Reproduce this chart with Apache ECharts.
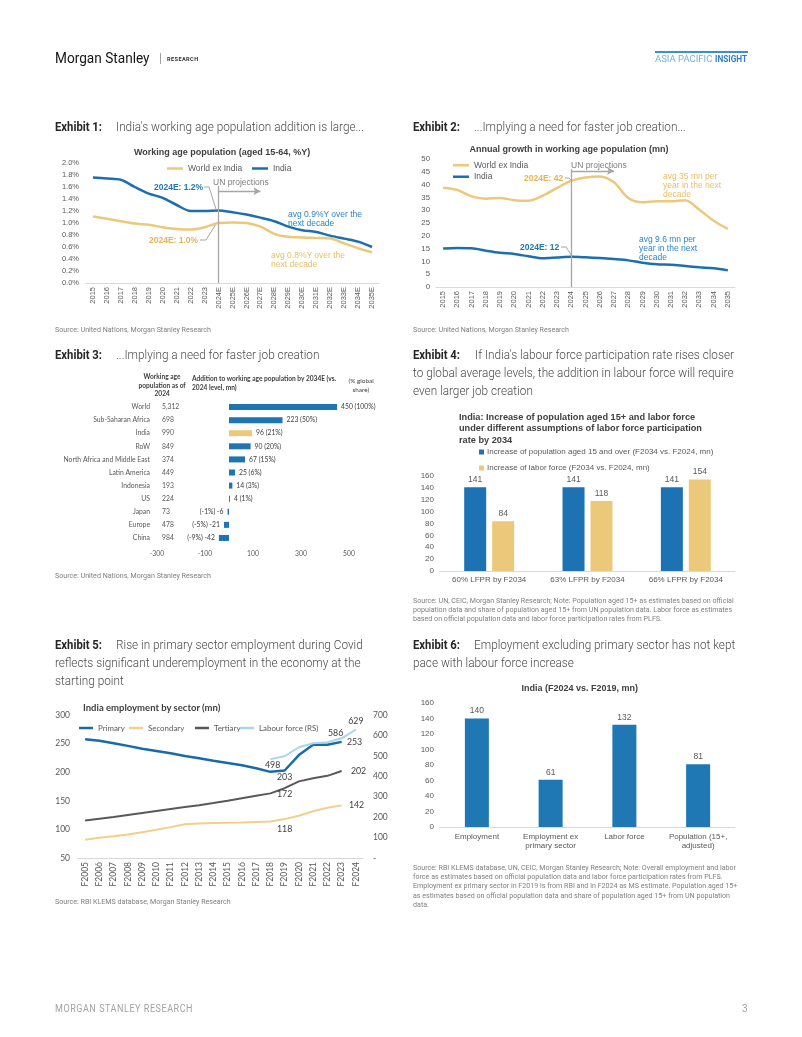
<!DOCTYPE html>
<html><head><meta charset="utf-8">
<script src="https://cdn.jsdelivr.net/npm/echarts@6/dist/echarts.min.js"></script>
<style>
html,body{margin:0;padding:0;background:#fff;}
#page{position:relative;width:802px;height:1037px;overflow:hidden;background:#fff;}
#chart{position:absolute;left:0;top:0;width:802px;height:1037px;}
.t{position:absolute;white-space:nowrap;transform-origin:0 50%;line-height:1.2;}
</style></head><body><div id="page"><div id="chart"></div></div>
<script>
// ---------------- DATA ----------------
const ex1Years = ['2015','2016','2017','2018','2019','2020','2021','2022','2023','2024E','2025E','2026E','2027E','2028E','2029E','2030E','2031E','2032E','2033E','2034E','2035E'];
const ex1WorldExIndia = [1.11,1.07,1.03,0.99,0.97,0.93,0.90,0.89,0.93,1.00,1.01,1.00,0.94,0.82,0.77,0.76,0.75,0.74,0.66,0.58,0.51];
const ex1India = [1.76,1.74,1.72,1.60,1.49,1.42,1.30,1.20,1.20,1.21,1.18,1.14,1.09,1.03,0.94,0.88,0.85,0.79,0.74,0.69,0.60];

const ex2Years = ['2015','2016','2017','2018','2019','2020','2021','2022','2023','2024','2025','2026','2027','2028','2029','2030','2031','2032','2033','2034','2035'];
const ex2WorldExIndia = [38.8,37.9,35.4,34.5,34.8,33.9,33.7,35.7,38.7,41.5,42.8,43.2,40.9,34.8,33.1,33.5,33.5,33.9,30.2,25.9,22.7];
const ex2India = [15.0,15.2,15.1,14.2,13.4,12.9,12.0,11.2,11.5,11.8,11.6,11.3,10.9,10.4,9.5,8.9,8.7,8.2,7.7,7.3,6.5];

const ex3Regions = ['World','Sub-Saharan Africa','India','RoW','North Africa and Middle East','Latin America','Indonesia','US','Japan','Europe','China'];
const ex3Pop2024 = ['5,312','698','990','849','374','449','193','224','73','478','984'];
const ex3Addition = [450,223,96,90,67,25,14,4,-6,-21,-42];
const ex3Share = [100,50,21,20,15,6,3,1,-1,-5,-9];

const ex4Cats = ['60% LFPR by F2034','63% LFPR by F2034','66% LFPR by F2034'];
const ex4Pop15 = [141,141,141];
const ex4Labor = [84,118,154];

const ex5Years = ['F2005','F2006','F2007','F2008','F2009','F2010','F2011','F2012','F2013','F2014','F2015','F2016','F2017','F2018','F2019','F2020','F2021','F2022','F2023','F2024'];
const ex5Primary = [257.6,255,250.6,246,241,237,233,228.5,224.4,220,216,212,207,200.6,203,230,248,248,253,null];
const ex5Secondary = [82,85.5,88,91,95,99.5,104,109,110.5,111,111.5,112,113,114,118,124,131.6,138,142,null];
const ex5Tertiary = [115.7,118.6,121.5,125,128.5,132,135.5,139,142.4,146,150,154.6,159,163,172,184,189.5,193.6,202,null];
const ex5Labour = [null,null,null,null,null,null,null,null,null,null,null,null,null,484,498,542,562,567,586,629];

const ex6Cats = ['Employment','Employment ex\nprimary sector','Labor force','Population (15+,\nadjusted)'];
const ex6Values = [140,61,132,81];

// ---------------- STYLE ----------------
const BLUE = '#1b6fae', YEL = '#ecc97a', GREY = '#595959';
const AR = 'Liberation Sans', CAL = 'Lato';

// label placement for exhibit 5 (style only)
const ex5LabelPos = {
  Primary: {14:{position:'bottom',distance:2}, 18:{position:'right',distance:5}},
  Secondary: {14:{position:'bottom',distance:5}, 18:{position:'right',distance:7}},
  Tertiary: {14:{position:'bottom',distance:1}, 18:{position:'right',distance:9}},
  Labour: {14:{position:'bottom',distance:4,offset:[-12,0]}, 18:{position:'top',distance:0,offset:[-6,0]}, 19:{position:'top',distance:4}}
};
function withLabels(arr, key){
  return arr.map((v,i)=> ex5LabelPos[key][i] ? {value:v, label:Object.assign({show:true}, ex5LabelPos[key][i])} : v);
}

const chart = echarts.init(document.getElementById('chart'), null, {renderer:'canvas'});
const axLbl = (extra)=>Object.assign({color:GREY, fontFamily:AR, fontSize:8}, extra||{});
const noLine = {show:false};
const lineLegend = (left, top, names, extra)=>Object.assign({left, top, padding:0, icon:'rect', itemWidth:16, itemHeight:2.5, data:names, selectedMode:false,
  textStyle:{fontSize:8.5, color:GREY, fontFamily:AR}}, extra||{});
const ex5Leg = (left, name)=>lineLegend(left, 724, [name], {itemWidth:14, textStyle:{fontSize:7.9, color:GREY, fontFamily:CAL}});

const option = {
  animation:false,
  textStyle:{fontFamily:AR},
  grid:[
    {left:86, top:163, width:293, height:120},
    {left:436, top:159, width:299, height:128},
    {left:157, top:400.5, width:192, height:144},
    {left:440, top:476, width:295, height:95},
    {left:78, top:715, width:285, height:143},
    {left:440, top:703, width:295, height:124}
  ],
  xAxis:[
    {gridIndex:0, type:'category', data:ex1Years, axisTick:noLine, axisLine:{lineStyle:{color:'#d9d9d9'}}, axisLabel:axLbl({rotate:90, interval:0, fontSize:7.5, margin:4})},
    {gridIndex:1, type:'category', data:ex2Years, axisTick:noLine, axisLine:{lineStyle:{color:'#d9d9d9'}}, axisLabel:axLbl({rotate:90, interval:0, fontSize:7.5, margin:4})},
    {gridIndex:2, type:'value', min:-300, max:500, interval:100, splitLine:noLine, axisLine:noLine, axisTick:noLine,
      axisLabel:{color:GREY, fontFamily:CAL, fontSize:6.8, margin:6, formatter:v=> ((v+300)%200===0 ? String(v) : '')}},
    {gridIndex:3, type:'category', data:ex4Cats, axisTick:noLine, axisLine:{lineStyle:{color:'#d9d9d9'}}, axisLabel:axLbl({margin:5, interval:0})},
    {gridIndex:4, type:'category', data:ex5Years, axisTick:noLine, axisLine:{lineStyle:{color:'#d9d9d9'}}, axisLabel:{color:GREY, fontFamily:CAL, fontSize:8.5, rotate:90, interval:0, margin:4}},
    {gridIndex:5, type:'category', data:ex6Cats, axisTick:noLine, axisLine:{lineStyle:{color:'#d9d9d9'}}, axisLabel:axLbl({margin:5, interval:0, lineHeight:9.5})}
  ],
  yAxis:[
    {gridIndex:0, type:'value', min:0, max:2, interval:0.2, splitLine:noLine, axisLine:noLine, axisTick:noLine, axisLabel:axLbl({fontSize:7.5, margin:7, formatter:v=>v.toFixed(1)+'%'})},
    {gridIndex:1, type:'value', min:0, max:50, interval:5, splitLine:noLine, axisLine:noLine, axisTick:noLine, axisLabel:axLbl({fontSize:7.8, margin:6})},
    {gridIndex:2, type:'category', position:'left', inverse:true, data:ex3Regions, axisLine:noLine, axisTick:noLine, axisLabel:{color:GREY, fontFamily:CAL, fontSize:6.8, margin:7, interval:0}},
    {gridIndex:2, type:'category', position:'left', offset:0, inverse:true, data:ex3Regions, axisLine:noLine, axisTick:noLine, axisLabel:{color:GREY, fontFamily:CAL, fontSize:6.8, margin:-5, align:'left', interval:0, formatter:(v,i)=>ex3Pop2024[i]}},
    {gridIndex:3, type:'value', min:0, max:160, interval:20, splitLine:noLine, axisLine:noLine, axisTick:noLine, axisLabel:axLbl({margin:6})},
    {gridIndex:4, type:'value', position:'left', min:50, max:300, interval:50, splitLine:noLine, axisLine:noLine, axisTick:noLine, axisLabel:{color:GREY, fontFamily:CAL, fontSize:8.5, margin:8}},
    {gridIndex:4, type:'value', position:'right', min:0, max:700, interval:100, splitLine:noLine, axisLine:noLine, axisTick:noLine, axisLabel:{color:GREY, fontFamily:CAL, fontSize:8.5, margin:10, formatter:v=> v===0?'-':String(v)}},
    {gridIndex:5, type:'value', min:0, max:160, interval:20, splitLine:noLine, axisLine:noLine, axisTick:noLine, axisLabel:axLbl({margin:6})}
  ],
  legend:[
    lineLegend(167, 164, ['World ex India']),
    lineLegend(252, 164, ['India']),
    lineLegend(453, 160, ['World ex India','India'], {orient:'vertical', itemGap:1, textStyle:{fontSize:8.5, lineHeight:10.5, color:GREY, fontFamily:AR}}),
    {left:479, top:447, padding:0, orient:'vertical', icon:'rect', itemGap:6, itemWidth:5, itemHeight:5, selectedMode:false,
      data:['Increase of population aged 15 and over (F2034 vs. F2024, mn)','Increase of labor force (F2034 vs. F2024, mn)'], textStyle:{fontSize:8, lineHeight:10, color:GREY, fontFamily:AR, padding:[0,0,0,-2]}},
    ex5Leg(79, 'Primary'),
    ex5Leg(129, 'Secondary'),
    ex5Leg(195, 'Tertiary'),
    ex5Leg(240, 'Labour force (RS)')
  ],
  series:[
    // Exhibit 1
    {name:'World ex India', type:'line', xAxisIndex:0, yAxisIndex:0, data:ex1WorldExIndia, symbol:'none', showSymbol:false, smooth:0.3, lineStyle:{width:2.5, color:YEL}, itemStyle:{color:YEL}},
    {name:'India', type:'line', xAxisIndex:0, yAxisIndex:0, data:ex1India, symbol:'none', showSymbol:false, smooth:0.3, lineStyle:{width:2.5, color:BLUE}, itemStyle:{color:BLUE},
      markLine:{silent:true, symbol:['none','none'], label:{show:false}, lineStyle:{color:'#a6a6a6', width:1.3, type:'solid'},
        data:[[{coord:['2024E',1.62]},{coord:['2024E',0]}],
              [{coord:['2024E',1.53], symbol:'none'},{coord:['2027E',1.53], symbol:'arrow', symbolSize:[6,7]}]]}},
    // Exhibit 2
    {name:'World ex India', type:'line', xAxisIndex:1, yAxisIndex:1, data:ex2WorldExIndia, symbol:'none', showSymbol:false, smooth:0.3, lineStyle:{width:2.5, color:YEL}, itemStyle:{color:YEL}},
    {name:'India', type:'line', xAxisIndex:1, yAxisIndex:1, data:ex2India, symbol:'none', showSymbol:false, smooth:0.3, lineStyle:{width:2.5, color:BLUE}, itemStyle:{color:BLUE},
      markLine:{silent:true, symbol:['none','none'], label:{show:false}, lineStyle:{color:'#a6a6a6', width:1.3, type:'solid'},
        data:[[{coord:['2024',46]},{coord:['2024',0]}],
              [{coord:['2024',45.3], symbol:'none'},{coord:['2027',45.3], symbol:'arrow', symbolSize:[6,7]}]]}},
    // Exhibit 3
    {type:'bar', xAxisIndex:2, yAxisIndex:2, barWidth:6,
      data:ex3Addition.map((v,i)=>({value:v, itemStyle:{color: ex3Regions[i]==='India' ? YEL : '#1f74b1'}, label:{position: v<0?'left':'right'}})),
      label:{show:true, fontFamily:CAL, fontSize:6.8, color:'#404040', distance:4,
        formatter:p=> p.value<0 ? `(${ex3Share[p.dataIndex]}%) ${p.value}` : `${p.value} (${ex3Share[p.dataIndex]}%)`}},
    // Exhibit 4
    {name:'Increase of population aged 15 and over (F2034 vs. F2024, mn)', type:'bar', xAxisIndex:3, yAxisIndex:4, data:ex4Pop15, barWidth:22, barGap:'27%', itemStyle:{color:'#1c72b3'},
      label:{show:true, position:'top', distance:3, fontSize:8.5, color:GREY, fontFamily:AR}},
    {name:'Increase of labor force (F2034 vs. F2024, mn)', type:'bar', xAxisIndex:3, yAxisIndex:4, data:ex4Labor, barWidth:22, barGap:'27%', itemStyle:{color:YEL},
      label:{show:true, position:'top', distance:3, fontSize:8.5, color:GREY, fontFamily:AR}},
    // Exhibit 5
    {name:'Primary', type:'line', xAxisIndex:4, yAxisIndex:5, data:withLabels(ex5Primary,'Primary'), symbol:'circle', symbolSize:0.5, showSymbol:true, lineStyle:{width:2.5, color:'#1b6aa8'}, itemStyle:{color:'#1b6aa8'},
      label:{show:false, fontFamily:CAL, fontSize:8.8, color:'#404040'}},
    {name:'Secondary', type:'line', xAxisIndex:4, yAxisIndex:5, data:withLabels(ex5Secondary,'Secondary'), symbol:'circle', symbolSize:0.5, showSymbol:true, lineStyle:{width:2, color:'#f1cf8c'}, itemStyle:{color:'#f1cf8c'},
      label:{show:false, fontFamily:CAL, fontSize:8.8, color:'#404040'}},
    {name:'Tertiary', type:'line', xAxisIndex:4, yAxisIndex:5, data:withLabels(ex5Tertiary,'Tertiary'), symbol:'circle', symbolSize:0.5, showSymbol:true, lineStyle:{width:2, color:'#595959'}, itemStyle:{color:'#595959'},
      label:{show:false, fontFamily:CAL, fontSize:8.8, color:'#404040'}},
    {name:'Labour force (RS)', type:'line', xAxisIndex:4, yAxisIndex:6, data:withLabels(ex5Labour,'Labour'), symbol:'circle', symbolSize:0.5, showSymbol:true, lineStyle:{width:2, color:'#a9d6ea'}, itemStyle:{color:'#a9d6ea'},
      label:{show:false, fontFamily:CAL, fontSize:8.8, color:'#404040'}},
    // Exhibit 6
    {type:'bar', xAxisIndex:5, yAxisIndex:7, data:ex6Values, barWidth:24, itemStyle:{color:'#1f77b4'},
      label:{show:true, position:'top', distance:3, fontSize:8.5, color:GREY, fontFamily:AR}}
  ],
  graphic:[
    {type:'polyline', shape:{points:[[204,187],[209,187],[216,209]]}, style:{stroke:'#a6a6a6', lineWidth:1, fill:null}},
    {type:'polyline', shape:{points:[[200,240],[206,240],[216,224]]}, style:{stroke:'#a6a6a6', lineWidth:1, fill:null}},
    {type:'polyline', shape:{points:[[565,178],[569,178],[572,181]]}, style:{stroke:'#a6a6a6', lineWidth:1, fill:null}},
    {type:'polyline', shape:{points:[[561,247],[566,247],[572,256]]}, style:{stroke:'#a6a6a6', lineWidth:1, fill:null}}
  ]
};
chart.setOption(option);

// ---------------- PAGE TEXT ----------------
const page = document.getElementById('page');
const cv = document.createElement('canvas').getContext('2d');
function measure(s, font){ cv.font = font; return cv.measureText(s).width; }
function txt(s, x, y, st, o){
  o = o || {};
  const d = document.createElement('div');
  d.className = 't';
  d.textContent = s;
  d.style.font = st.font;
  d.style.lineHeight = '1.2';
  d.style.color = st.color;
  if (st.ls) d.style.letterSpacing = st.ls;
  page.appendChild(d);
  const w0 = d.offsetWidth, h = d.offsetHeight;
  const sc = o.w ? o.w / w0 : (o.sc || st.sc || 1);
  const w = w0 * sc;
  let left = x;
  if (o.align === 'center') left = x - w/2; else if (o.align === 'right') left = x - w;
  d.style.left = left + 'px';
  d.style.top = (y - h/2) + 'px';
  if (sc !== 1) d.style.transform = 'scaleX(' + sc + ')';
  return d;
}
const TITLE = {font:'300 13px Roboto', color:'#4a4a4a'};
TITLE.sc = 248 / measure("India's working age population addition is large...", TITLE.font);
const EXL = {font:'700 13px Roboto', color:'#262626'};
EXL.sc = 47 / measure('Exhibit 4:', EXL.font);
const SRC = {font:'400 7.5px Roboto', color:'#7f7f7f'};
SRC.sc = 156 / measure('Source: United Nations, Morgan Stanley Research', SRC.font);

// header
txt('Morgan Stanley', 55, 58, {font:'400 15.5px Roboto', color:'#151515'}, {w:95});
txt('|', 159, 58, {font:'300 12px Roboto', color:'#666'});
txt('RESEARCH', 167, 58.5, {font:'700 6px Roboto', color:'#333', ls:'0.4px'}, {w:32});
txt('ASIA PACIFIC', 655, 58.5, {font:'400 8.5px Roboto', color:'#79aee0'}, {w:57});
txt('INSIGHT', 715, 58.5, {font:'700 8.5px Roboto', color:'#2f80c9'}, {w:32});
const bar = document.createElement('div');
Object.assign(bar.style, {position:'absolute', left:'655px', top:'50.5px', width:'93px', height:'2.5px', background:'#3a8ed8'});
page.appendChild(bar);

// exhibit headings
txt('Exhibit 1:', 55, 127, EXL); txt("India's working age population addition is large...", 116, 127, TITLE);
txt('Exhibit 2:', 413, 127, EXL); txt('...Implying a need for faster job creation...', 474, 127, TITLE);
txt('Exhibit 3:', 55, 355, EXL); txt('...Implying a need for faster job creation', 116, 355, TITLE);
txt('Exhibit 4:', 413, 355, EXL); txt("If India's labour force participation rate rises closer", 475, 355, TITLE);
txt('to global average levels, the addition in labour force will require', 413, 373, TITLE);
txt('even larger job creation', 413, 391, TITLE);
txt('Exhibit 5:', 55, 645, EXL); txt('Rise in primary sector employment during Covid', 116, 645, TITLE);
txt('reflects significant underemployment in the economy at the', 55, 663, TITLE);
txt('starting point', 55, 681, TITLE);
txt('Exhibit 6:', 413, 645, EXL); txt('Employment excluding primary sector has not kept', 474, 645, TITLE);
txt('pace with labour force increase', 413, 663, TITLE);

// sources
txt('Source: United Nations, Morgan Stanley Research', 55, 329, SRC);
txt('Source: United Nations, Morgan Stanley Research', 413, 329, SRC);
txt('Source: United Nations, Morgan Stanley Research', 55, 575, SRC);
txt('Source: UN, CEIC, Morgan Stanley Research; Note: Population aged 15+ as estimates based on official', 413, 600, SRC);
txt('population data and share of population aged 15+ from UN population data. Labor force as estimates', 413, 609, SRC);
txt('based on official population data and labor force participation rates from PLFS.', 413, 618, SRC);
txt('Source: RBI KLEMS database, Morgan Stanley Research', 55, 901, SRC);
txt('Source: RBI KLEMS database, UN, CEIC, Morgan Stanley Research; Note: Overall employment and labor', 413, 867, SRC);
txt('force as estimates based on official population data and labor force participation rates from PLFS.', 413, 876, SRC);
txt('Employment ex primary sector in F2019 is from RBI and in F2024 as MS estimate. Population aged 15+', 413, 885.5, SRC);
txt('as estimates based on official population data and share of population aged 15+ from UN population', 413, 895, SRC);
txt('data.', 413, 904, SRC);

// footer
txt('MORGAN STANLEY RESEARCH', 55, 1009, {font:'400 10px Roboto', color:'#a3a3a3', ls:'0.6px'}, {w:138});
txt('3', 742, 1009, {font:'400 10px Roboto', color:'#a3a3a3'});

// chart titles
const CT = {font:'bold 9px "Liberation Sans"', color:'#404040'};
txt('Working age population (aged 15-64, %Y)', 222, 152, CT, {align:'center'});
txt('Annual growth in working age population (mn)', 569, 149, CT, {align:'center'});
const CT4 = {font:'bold 9.2px "Liberation Sans"', color:'#404040'};
txt('India: Increase of population aged 15+ and labor force', 459, 417, CT4);
txt('under different assumptions of labor force participation', 459, 428.5, CT4);
txt('rate by 2034', 459, 440, CT4);
txt('India employment by sector (mn)', 83, 707, {font:'bold 9.5px Lato', color:'#404040'});
txt('India (F2024 vs. F2019, mn)', 580, 688, CT, {align:'center'});

// exhibit 3 header
const H3 = {font:'bold 6.6px Lato', color:'#404040'};
txt('Working age', 162, 377, H3, {align:'center'});
txt('population as of', 162, 385.5, H3, {align:'center'});
txt('2024', 162, 394, H3, {align:'center'});
txt('Addition to working age population by 2034E (vs.', 192, 379, H3);
txt('2024 level, mn)', 192, 388, H3);
const H3b = {font:'6.4px Lato', color:'#404040'};
txt('(% global', 361, 381, H3b, {align:'center'});
txt('share)', 361, 390, H3b, {align:'center'});

// annotations exhibit 1
const AN = (c,b)=>({font:(b?'bold ':'')+'8.5px "Liberation Sans"', color:c});
txt('UN projections', 213, 182, AN('#7f7f7f'));
txt('2024E: 1.2%', 203, 187, AN('#1f77b4',true), {align:'right'});
txt('2024E: 1.0%', 198, 240, AN('#e4b458',true), {align:'right'});
txt('avg 0.9%Y over the', 288, 214, AN('#2e86c1'));
txt('next decade', 288, 223, AN('#2e86c1'));
txt('avg 0.8%Y over the', 271, 255, AN('#e8bf62'));
txt('next decade', 271, 264, AN('#e8bf62'));
// annotations exhibit 2
txt('UN projections', 571, 165, AN('#7f7f7f'));
txt('2024E: 42', 563, 178, AN('#e4b458',true), {align:'right'});
txt('2024E: 12', 559, 247, AN('#1f77b4',true), {align:'right'});
txt('avg 35 mn per', 663, 176, AN('#e8bf62'));
txt('year in the next', 663, 185, AN('#e8bf62'));
txt('decade', 663, 194, AN('#e8bf62'));
txt('avg 9.6 mn per', 639, 239, AN('#2e86c1'));
txt('year in the next', 639, 248, AN('#2e86c1'));
txt('decade', 639, 257, AN('#2e86c1'));
</script></body></html>
